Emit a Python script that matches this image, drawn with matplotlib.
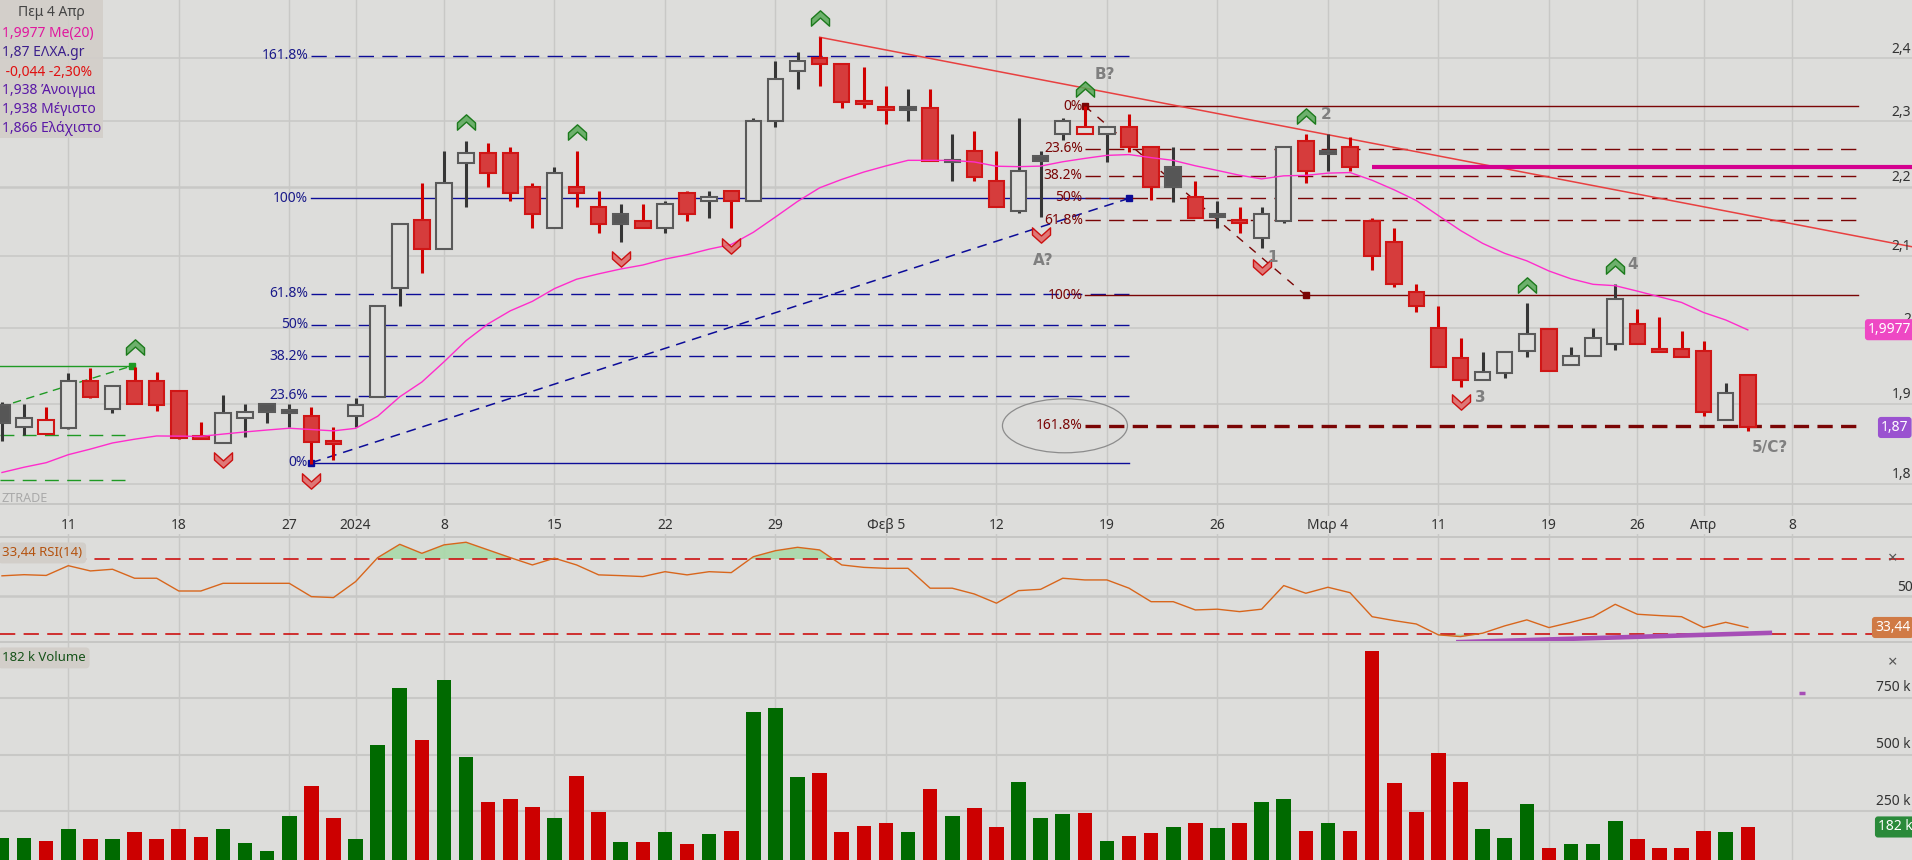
import numpy as np
import matplotlib
matplotlib.use("Agg")
import matplotlib.pyplot as plt
from matplotlib.patches import Rectangle, Ellipse
from matplotlib.lines import Line2D
from matplotlib.path import Path
import matplotlib.transforms as mtransforms

plt.rcParams['font.family'] = ['Noto Sans', 'DejaVu Sans']
plt.rcParams['lines.scale_dashes'] = False

# ---------------- data ----------------
opens = [1.899, 1.870, 1.862, 1.869, 1.930, 1.894, 1.930, 1.930, 1.917, 1.858,
         1.850, 1.882, 1.900, 1.890, 1.885, 1.852, 1.885, 1.909, 2.055, 2.151,
         2.110, 2.236, 2.251, 2.251, 2.200, 2.140, 2.200, 2.170, 2.160, 2.150,
         2.140, 2.191, 2.179, 2.194, 2.179, 2.300, 2.379, 2.400, 2.390, 2.331,
         2.320, 2.320, 2.320, 2.239, 2.254, 2.209, 2.164, 2.246, 2.280, 2.280,
         2.280, 2.291, 2.260, 2.230, 2.185, 2.158, 2.150, 2.125, 2.150, 2.269,
         2.252, 2.260, 2.150, 2.120, 2.049, 2.000, 1.960, 1.931, 1.940, 1.969,
         1.999, 1.950, 1.963, 1.979, 2.006, 1.971, 1.972, 1.969, 1.879, 1.938]
highs = [1.902, 1.900, 1.896, 1.940, 1.947, 1.923, 1.948, 1.942, 1.918, 1.877,
         1.911, 1.900, 1.900, 1.900, 1.896, 1.871, 1.908, 2.030, 2.146, 2.206,
         2.254, 2.269, 2.266, 2.260, 2.206, 2.230, 2.254, 2.194, 2.175, 2.175,
         2.179, 2.194, 2.194, 2.194, 2.305, 2.395, 2.410, 2.434, 2.390, 2.386,
         2.355, 2.350, 2.350, 2.280, 2.285, 2.254, 2.305, 2.254, 2.305, 2.323,
         2.291, 2.311, 2.260, 2.260, 2.209, 2.179, 2.170, 2.170, 2.260, 2.280,
         2.280, 2.275, 2.154, 2.140, 2.060, 2.030, 1.987, 1.968, 1.968, 2.034,
         1.999, 1.974, 2.000, 2.060, 2.026, 2.015, 1.996, 1.983, 1.927, 1.938]
lows = [1.853, 1.861, 1.862, 1.868, 1.908, 1.889, 1.900, 1.891, 1.855, 1.855,
        1.850, 1.858, 1.876, 1.870, 1.825, 1.829, 1.871, 1.909, 2.030, 2.076,
        2.110, 2.170, 2.200, 2.179, 2.140, 2.140, 2.170, 2.133, 2.120, 2.140,
        2.133, 2.150, 2.154, 2.140, 2.179, 2.291, 2.350, 2.355, 2.320, 2.320,
        2.295, 2.300, 2.239, 2.209, 2.209, 2.170, 2.162, 2.156, 2.271, 2.280,
        2.237, 2.252, 2.181, 2.177, 2.154, 2.140, 2.133, 2.111, 2.147, 2.206,
        2.224, 2.224, 2.080, 2.056, 2.022, 1.948, 1.922, 1.931, 1.934, 1.961,
        1.943, 1.950, 1.963, 1.971, 1.979, 1.968, 1.961, 1.884, 1.879, 1.866]
closes = [1.876, 1.882, 1.879, 1.930, 1.909, 1.923, 1.900, 1.898, 1.857, 1.856,
          1.889, 1.890, 1.890, 1.890, 1.852, 1.850, 1.899, 2.030, 2.146, 2.110,
          2.206, 2.251, 2.221, 2.191, 2.160, 2.221, 2.191, 2.146, 2.146, 2.140,
          2.175, 2.160, 2.185, 2.179, 2.300, 2.366, 2.395, 2.390, 2.330, 2.327,
          2.319, 2.320, 2.239, 2.239, 2.215, 2.170, 2.224, 2.239, 2.300, 2.291,
          2.291, 2.260, 2.200, 2.200, 2.154, 2.158, 2.149, 2.160, 2.260, 2.224,
          2.252, 2.230, 2.100, 2.060, 2.030, 1.948, 1.931, 1.942, 1.968, 1.992,
          1.943, 1.963, 1.987, 2.040, 1.979, 1.968, 1.961, 1.890, 1.914, 1.870]
prev_close_first = 1.870

volumes_k = [135, 135, 121, 174, 130, 130, 160, 130, 174, 139,
             174, 113, 77, 231, 363, 222, 130, 540, 791, 562,
             826, 491, 293, 306, 271, 222, 407, 249, 117, 117,
             160, 108, 152, 165, 686, 703, 403, 421, 160, 187,
             200, 160, 350, 231, 266, 182, 381, 222, 240, 244,
             121, 143, 156, 182, 200, 178, 200, 293, 306, 165,
             200, 165, 955, 376, 249, 505, 381, 174, 134, 284,
             90, 108, 108, 209, 130, 90, 90, 165, 160, 182]

rsi_values = [61.0, 61.6, 61.2, 66.4, 63.6, 64.5, 59.7, 59.7, 52.9, 52.9,
              57.0, 57.0, 57.0, 57.0, 49.9, 49.4, 57.9, 70.7, 77.8, 73.0,
              77.5, 78.9, 74.8, 70.7, 66.8, 70.4, 66.8, 61.5, 61.1, 60.6,
              63.2, 61.5, 63.2, 62.7, 71.2, 74.4, 76.2, 74.8, 66.8, 65.5,
              65.0, 65.0, 54.4, 54.4, 51.3, 46.4, 53.1, 53.8, 59.7, 58.8,
              58.8, 54.4, 47.2, 47.2, 42.8, 43.2, 41.9, 43.2, 55.8, 51.7,
              54.9, 52.0, 39.2, 37.1, 35.3, 29.5, 28.6, 30.4, 34.3, 37.5,
              33.4, 36.2, 39.2, 45.8, 40.5, 39.8, 39.2, 33.4, 36.2, 33.44]

ema_first = 1.814
ema_period = 20

date_tick_idx = [3, 8, 13, 16, 20, 25, 30, 35, 40, 45, 50, 55, 60, 65, 70, 74, 77, 81]
date_tick_labels = ['11', '18', '27', '2024', '8', '15', '22', '29', 'Φεβ 5', '12',
                    '19', '26', 'Μαρ 4', '11', '19', '26', 'Απρ', '8']
price_ticks = [1.8, 1.9, 2.0, 2.1, 2.2, 2.3, 2.4]
price_tick_labels = ['1,8', '1,9', '2', '2,1', '2,2', '2,3', '2,4']
volume_ticks = [250, 500, 750]
volume_tick_labels = ['250 k', '500 k', '750 k']

fib_pcts = [0, 23.6, 38.2, 50, 61.8, 100, 161.8]
fib1_low, fib1_high = 1.826, 2.183        # blue, drawn from the December low
fib1_start, fib1_end = 14, 51
fib2_high, fib2_low = 2.3234, 2.0445      # dark red, drawn from the B? high
fib2_start, fib2_end = 49, 84

trend_x = [37, 86.4]
trend_y = [2.434, 2.113]
resist_level = 2.230
resist_x = [62, 87]

old_lines_x = [-0.1, 5.9]
old_trend_y = [1.896, 1.9496]
old_top = 1.9496
old_levels = [1.861, 1.8054]

up_arrow_idx = [6, 21, 26, 37, 49, 59, 69, 73]
up_arrow_price = [1.975, 2.299, 2.283, 2.466, 2.350, 2.308, 2.059, 2.086]
down_arrow_idx = [10, 14, 28, 33, 47, 57, 66]
down_arrow_price = [1.829, 1.804, 2.096, 2.114, 2.130, 2.084, 1.902]

wave_labels = ['B?', 'A?', '1', '2', '3', '4', '5/C?']
wave_x = [49.9, 47.1, 57.5, 59.9, 66.9, 73.8, 80.0]
wave_y = [2.374, 2.093, 2.097, 2.311, 1.908, 2.088, 1.845]

rsi_div_x = [65.8, 80.1]
rsi_div_y = [25.6, 30.6]

info_lines = ['Πεμ 4 Απρ', '1,9977 Me(20)', '1,87 ΕΛΧΑ.gr', ' -0,044 -2,30%',
              '1,938 Άνοιγμα', '1,938 Μέγιστο', '1,866 Ελάχιστο']
info_colors = ['#454545', '#e0189e', '#3b1f8c', '#e01010', '#5a18a6', '#5a18a6', '#5a18a6']
last_ma = 1.9977
last_close = 1.870
last_rsi = 33.44
last_vol = 182

# ---------------- styling ----------------
W, H = 1912, 860
BG = '#dddddb'
GRID = '#c8c8c6'
NAVY = '#0c0c98'
MAROON = '#7a0505'
RED_FACE = '#d63c3c'
RED_EDGE = '#d01616'
RED_WICK = '#d00000'
GRAY_EDGE = '#5a5a5a'
GRAY_WICK = '#363636'
DARK_FACE = '#565656'
XMIN, XMAX = -0.09, 86.43

fig = plt.figure(figsize=(W / 100, H / 100), dpi=100, facecolor=BG)

ax = fig.add_axes([0, 1 - 504 / H, 1, 504 / H])
ax_d = fig.add_axes([0, 1 - 537 / H, 1, 33 / H])
ax_r = fig.add_axes([0, 1 - 642 / H, 1, 105 / H])
ax_v = fig.add_axes([0, 0, 1, 218 / H])

for a in [ax, ax_d, ax_r, ax_v]:
    a.set_facecolor(BG)
    a.set_xlim(XMIN, XMAX)
    for s in a.spines.values():
        s.set_visible(False)
    a.tick_params(which='both', length=0, labelleft=False, labelbottom=False)
    for t in date_tick_idx:
        a.axvline(t, color=GRID, lw=1.0, zorder=0)

ax.set_yscale('log')
ax.set_ylim(1.7758, 2.496)
ax.yaxis.set_major_locator(matplotlib.ticker.NullLocator())
ax.yaxis.set_minor_locator(matplotlib.ticker.NullLocator())
ax.set_xticks([])
for p in price_ticks:
    ax.axhline(p, color=GRID, lw=1.8 if p == 2.2 else 1.1, zorder=0)

# panel separators
for ypx in [504, 537, 642]:
    fig.add_artist(Line2D([0, 1], [1 - ypx / H] * 2, color='#c6c6c4', lw=1.4))

# ---------------- candles ----------------
x = np.arange(len(closes))
o = np.array(opens)
hi = np.array(highs)
lo = np.array(lows)
c = np.array(closes)
prev = np.r_[prev_close_first, c[:-1]]
up_day = c >= prev

for i in range(len(c)):
    bull = c[i] > o[i]
    if up_day[i]:
        edge, wick = GRAY_EDGE, GRAY_WICK
        face = BG if bull else DARK_FACE
    else:
        edge, wick = RED_EDGE, RED_WICK
        face = BG if bull else RED_FACE
    ax.vlines(x[i], lo[i], hi[i], color=wick, lw=2.2, zorder=3)
    b0, b1 = min(o[i], c[i]), max(o[i], c[i])
    mid = (b0 + b1) / 2
    min_h = mid * 0.0018
    if b1 - b0 < min_h:
        b0, b1 = mid - min_h / 2, mid + min_h / 2
        if face == BG:
            face = edge
    ax.add_patch(Rectangle((x[i] - 0.35, b0), 0.7, b1 - b0, facecolor=face,
                           edgecolor=edge, lw=1.5, zorder=4))

# EMA(20)
ema = [ema_first]
alpha = 2.0 / (ema_period + 1)
for ci in c[1:]:
    ema.append(ema[-1] + alpha * (ci - ema[-1]))
ax.plot(x, ema, color='#ff2ccc', lw=1.0, zorder=5)

# ---------------- drawings ----------------
# blue fibonacci
for pct in fib_pcts:
    lev = fib1_low + (fib1_high - fib1_low) * pct / 100
    ls = '-' if pct in (0, 100) else (0, (11, 6))
    ax.plot([fib1_start, fib1_end], [lev, lev], color=NAVY, lw=1.0, ls=ls, zorder=2)
    ax.text(fib1_start - 0.15, lev, f'{pct:g}%', ha='right', va='center',
            color='#1a1a8a', fontsize=10, zorder=6)
ax.plot([fib1_start, fib1_end], [fib1_low, fib1_high], color=NAVY, lw=1.1,
        ls=(0, (7, 5)), marker='s', ms=4, zorder=2)

# dark red fibonacci
for pct in fib_pcts:
    lev = fib2_high - (fib2_high - fib2_low) * pct / 100
    if pct in (0, 100):
        ls, lw = '-', 1.0
    elif pct == 161.8:
        ls, lw = (0, (11, 6)), 2.4
    else:
        ls, lw = (0, (11, 6)), 1.0
    ax.plot([fib2_start, fib2_end], [lev, lev], color=MAROON, lw=lw, ls=ls, zorder=2)
    ax.text(fib2_start - 0.1, lev, f'{pct:g}%', ha='right', va='center',
            color=MAROON, fontsize=10, zorder=6)
ax.plot([fib2_start, 59], [fib2_high, fib2_low], color=MAROON, lw=1.0,
        ls=(0, (6, 6)), marker='s', ms=4, zorder=2)

# ellipse around the 161.8% extension label
lev161 = fib2_high - (fib2_high - fib2_low) * 1.618
cx, cy = fig.transFigure.inverted().transform(ax.transData.transform((48.1, lev161)))
fig.add_artist(Ellipse((cx, cy), 125 / W, 54 / H, transform=fig.transFigure,
                       fill=False, ec='#8c8c8c', lw=0.9))

# trend line and resistance
ax.plot(trend_x, trend_y, color='#e84040', lw=1.1, zorder=2)
ax.plot(resist_x, [resist_level] * 2, color='#d4008f', lw=3.0, zorder=2,
        solid_capstyle='butt')

# older green drawing at the left edge
GREEN = '#1f9a24'
ax.plot(old_lines_x, [old_top] * 2, color=GREEN, lw=1.0, zorder=2)
ax.plot(old_lines_x[1], old_top, marker='s', ms=4, color=GREEN, zorder=2)
ax.plot(old_lines_x, old_trend_y, color=GREEN, lw=1.0, ls=(0, (6, 4)), zorder=2)
for lev in old_levels:
    ax.plot(old_lines_x, [lev] * 2, color=GREEN, lw=1.0, ls=(0, (10, 6)), zorder=2)

# chevrons
up_chev = Path([(-1, -0.05), (0, 0.85), (1, -0.05), (1, -0.85), (0, 0.05),
                (-1, -0.85), (-1, -0.05)], closed=True)
down_chev = Path([(-1, 0.05), (0, -0.85), (1, 0.05), (1, 0.85), (0, -0.05),
                  (-1, 0.85), (-1, 0.05)], closed=True)
ax.plot(up_arrow_idx, up_arrow_price, ls='none', marker=up_chev, ms=13,
        mfc=(0.35, 0.66, 0.35, 0.85), mec='#1c7a1c', mew=1.0, zorder=7)
ax.plot(down_arrow_idx, down_arrow_price, ls='none', marker=down_chev, ms=13,
        mfc=(0.88, 0.40, 0.40, 0.85), mec='#cc1111', mew=1.0, zorder=7)

for t, xx, yy in zip(wave_labels, wave_x, wave_y):
    ax.text(xx, yy, t, ha='center', va='center', color='#7f7f7f', fontsize=11,
            fontweight='bold', family=['DejaVu Sans'], zorder=7)

ax.text(2 / W, (504 - 498) / 504, 'ZTRADE', transform=ax.transAxes, color='#a9a9a9',
        fontsize=9, fontweight='bold', va='center', ha='left')

# info box
ax.add_patch(Rectangle((0, 1 - 138 / 504), 103 / W, 138 / 504, transform=ax.transAxes,
                       facecolor='#d2cec9', edgecolor='none', alpha=0.9, zorder=10))
info_y = [13, 34, 53, 72, 91, 109, 128]
for k, (t, col) in enumerate(zip(info_lines, info_colors)):
    if k == 0:
        ax.text(51 / W, 1 - info_y[k] / 504, t, transform=ax.transAxes, color=col,
                fontsize=10, ha='center', va='center', zorder=11)
    else:
        ax.text(2 / W, 1 - info_y[k] / 504, t, transform=ax.transAxes, color=col,
                fontsize=10, ha='left', va='center', zorder=11)

# right price scale
blend = mtransforms.blended_transform_factory(ax.transAxes, ax.transData)
for p, lbl in zip(price_ticks, price_tick_labels):
    ax.text(1911 / W, p * 1.001, lbl, transform=blend, ha='right', va='bottom',
            fontsize=10, color='#333333', zorder=8)
ax.text(1868 / W, last_ma, '1,9977', transform=blend, ha='left', va='center',
        color='white', fontsize=10, zorder=20,
        bbox=dict(boxstyle='round,pad=0.22', fc='#ee48c4', ec='none'))
ax.text(1881 / W, last_close, '1,87', transform=blend, ha='left', va='center',
        color='white', fontsize=10, zorder=20,
        bbox=dict(boxstyle='round,pad=0.22', fc='#9a52d0', ec='none'))

# ---------------- date strip ----------------
for t, lbl in zip(date_tick_idx, date_tick_labels):
    ax_d.text(t, 0.36, lbl, ha='center', va='center', color='#333333', fontsize=10,
              bbox=dict(boxstyle='square,pad=0.1', fc=BG, ec='none'))
ax_d.set_ylim(0, 1)

# ---------------- RSI ----------------
r = np.array(rsi_values)
ax_r.set_ylim(25.7, 81.7)
ax_r.axhline(50, color=GRID, lw=1.8, zorder=0)
ax_r.fill_between(x, r, 70, where=r >= 70, interpolate=True, color='#a9d9a9', alpha=0.9, lw=0)
ax_r.fill_between(x, r, 30, where=r <= 30, interpolate=True, color='#a9d9a9', alpha=0.9, lw=0)
ax_r.axhline(70, color='#cc0000', lw=1.1, ls=(0, (11, 6)), zorder=2)
ax_r.axhline(30, color='#cc0000', lw=1.1, ls=(0, (11, 6)), zorder=2)
ax_r.plot(x, r, color='#d8661c', lw=1.0, zorder=3)
ax_r.plot(rsi_div_x, rsi_div_y, color='#a64db6', lw=3.3, solid_capstyle='butt',
          clip_on=False, zorder=6)
rblend = mtransforms.blended_transform_factory(ax_r.transAxes, ax_r.transData)
ax_r.text(1897 / W, 51, '50', transform=rblend, ha='left', va='bottom',
          fontsize=10, color='#333333')
ax_r.text(1893 / W, 70, '×', transform=rblend, ha='center', va='center',
          fontsize=12, color='#555555')
ax_r.text(1875 / W, last_rsi, '33,44', transform=rblend, ha='left', va='center',
          color='white', fontsize=10, zorder=20,
          bbox=dict(boxstyle='round,pad=0.22', fc='#d07a45', ec='none'))
ax_r.text(2 / W, 0.848, '33,44 RSI(14)', transform=ax_r.transAxes, ha='left',
          va='center', color='#b4520e', fontsize=9.5, zorder=11,
          bbox=dict(boxstyle='round,pad=0.3', fc='#d2cec9', ec='none'))

# ---------------- volume ----------------
v = np.array(volumes_k)
ax_v.set_ylim(37, 994)
for t in volume_ticks:
    ax_v.axhline(t, color=GRID, lw=1.5, zorder=0)
ax_v.bar(x, v, width=0.66, color=np.where(up_day, '#006a00', '#cc0000'), zorder=3)
vblend = mtransforms.blended_transform_factory(ax_v.transAxes, ax_v.transData)
for t, lbl in zip(volume_ticks, volume_tick_labels):
    ax_v.text(1876 / W, t + 12, lbl, transform=vblend, ha='left', va='bottom',
              fontsize=10, color='#333333')
ax_v.text(1893 / W, 901, '×', transform=vblend, ha='center', va='center',
          fontsize=12, color='#555555')
ax_v.plot([81.3, 81.6], [769, 769], color='#a64db6', lw=2.5, solid_capstyle='butt')
ax_v.text(1878 / W, last_vol, '182 k', transform=vblend, ha='left', va='center',
          color='white', fontsize=10, zorder=20,
          bbox=dict(boxstyle='round,pad=0.22', fc='#2a8a3a', ec='none'))
ax_v.text(2 / W, 0.927, '182 k Volume', transform=ax_v.transAxes, ha='left',
          va='center', color='#17531a', fontsize=9.5, zorder=11,
          bbox=dict(boxstyle='round,pad=0.3', fc='#d2cec9', ec='none'))

fig.savefig('out.png', dpi=100, facecolor=BG)
